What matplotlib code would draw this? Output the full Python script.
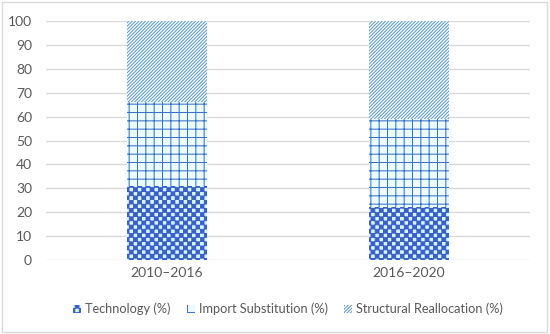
import numpy as np
import matplotlib
matplotlib.use("Agg")
import matplotlib.pyplot as plt
import matplotlib.hatch as mhatch
from matplotlib.path import Path
from matplotlib.patches import Rectangle

periods = ["2010\u20132016", "2016\u20132020"]
technology = [31, 22]
import_subst = [35, 37]
structural = [34, 41]

series_names = ["Technology (%)", "Import Substitution (%)", "Structural Reallocation (%)"]


# checkerboard hatch (Excel "large checker board"), keyed on '.'
class CheckerHatch(mhatch.HatchPatternBase):
    def __init__(self, hatch, density):
        self.n = 2 * hatch.count(".") * density
        self.num_vertices = (self.n * self.n // 2) * 5

    def set_vertices_and_codes(self, vertices, codes):
        s = 1.0 / self.n
        m = 0.05 * s
        verts = []
        for r in range(self.n):
            for c in range(self.n):
                if (r + c) % 2 == 0:
                    x0, y0 = c * s + m, r * s + m
                    x1, y1 = x0 + s - 2 * m, y0 + s - 2 * m
                    verts += [(x0, y0), (x1, y0), (x1, y1), (x0, y1), (x0, y0)]
        vertices[:] = verts
        codes[:] = [Path.MOVETO, Path.LINETO, Path.LINETO,
                    Path.LINETO, Path.CLOSEPOLY] * (len(verts) // 5)


idx = mhatch._hatch_types.index(mhatch.SmallFilledCircles)
mhatch._hatch_types[idx] = CheckerHatch

plt.rcParams["font.family"] = ["Lato", "DejaVu Sans"]
plt.rcParams["hatch.linewidth"] = 0.75

fig = plt.figure(figsize=(5.5, 3.34), dpi=100)
ax = fig.add_axes([0.0836, 0.2216, 0.88, 0.7154])

x = np.arange(len(periods))
w = 0.33
tech = np.array(technology)
imp = np.array(import_subst)
stru = np.array(structural)

ax.bar(x, tech, w, color="#d4f6ff", edgecolor="#3a5fcd", hatch="..",
       linewidth=0, label=series_names[0], zorder=2)
ax.bar(x, imp, w, bottom=tech, color="#eafcff", edgecolor="#3d72c9",
       hatch="++", linewidth=0, label=series_names[1], zorder=2)
ax.bar(x, stru, w, bottom=tech + imp, color="white", edgecolor="#5b9bd5",
       hatch="//////////", linewidth=0, label=series_names[2], zorder=2)

ax.set_xlim(-0.5, 1.5)
ax.set_ylim(0, 100)
ax.set_yticks(range(0, 101, 10))
ax.set_xticks(x)
ax.set_xticklabels(periods)
ax.yaxis.grid(True, color="#d9d9d9", linewidth=1)
ax.set_axisbelow(True)
for sp in ax.spines.values():
    sp.set_visible(False)
ax.tick_params(axis="both", length=0, labelsize=10, labelcolor="#595959")
ax.tick_params(axis="y", pad=10)
ax.tick_params(axis="x", pad=5)

ax.legend(loc="upper center", bbox_to_anchor=(0.5, -0.13), ncol=3,
          frameon=False, fontsize=9.2, labelcolor="#595959",
          handlelength=0.6, handleheight=0.6, handletextpad=0.3,
          columnspacing=1.3)

fig.patches.append(Rectangle((0.004, 0.006), 0.99, 0.988, transform=fig.transFigure,
                             fill=False, edgecolor="#d9d9d9", linewidth=1))

fig.savefig("out.png", dpi=100)
